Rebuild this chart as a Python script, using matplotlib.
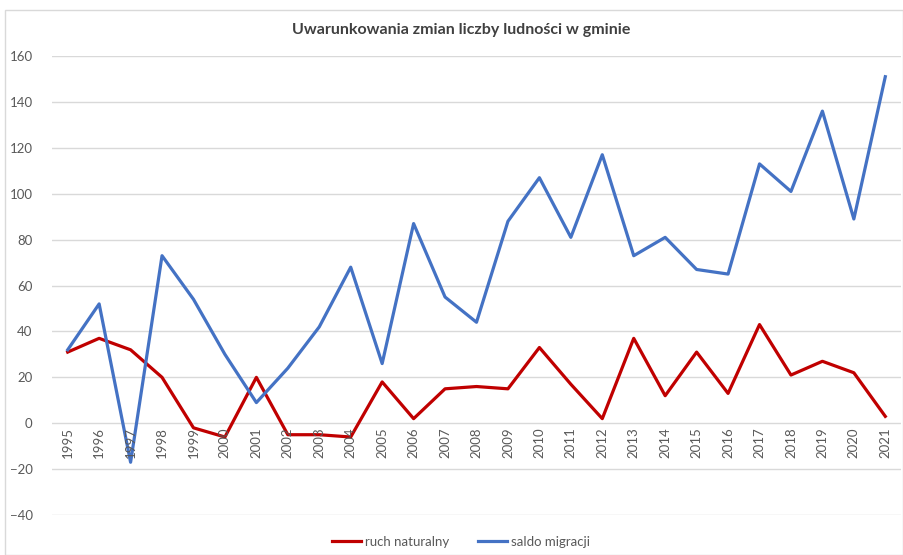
import numpy as np
import matplotlib.pyplot as plt
from matplotlib.patches import Rectangle

plt.rcParams['font.family'] = ['Lato', 'DejaVu Sans']

years = [str(y) for y in range(1995, 2022)]
ruch_naturalny = [31, 37, 32, 20, -2, -6, 20, -5, -5, -6, 18, 2, 15, 16, 15, 33,
                  17, 2, 37, 12, 31, 13, 43, 21, 27, 22, 3]
saldo_migracji = [32, 52, -17, 73, 54, 30, 9, 24, 42, 68, 26, 87, 55, 44, 88, 107,
                  81, 117, 73, 81, 67, 65, 113, 101, 136, 89, 151]
y_ticks = [-40, -20, 0, 20, 40, 60, 80, 100, 120, 140, 160]

fig = plt.figure(figsize=(9.04, 5.55), dpi=100)
ax = fig.add_axes([0.0575, 0.072, 0.9392, 0.827])

x = np.arange(len(years))
ax.plot(x, ruch_naturalny, color='#C00000', lw=2.3, label='ruch naturalny',
        solid_joinstyle='round', zorder=3)
ax.plot(x, saldo_migracji, color='#4472C4', lw=2.3, label='saldo migracji',
        solid_joinstyle='round', zorder=3)

ax.set_xlim(-0.5, len(years) - 0.5)
ax.set_ylim(-40, 160)
ax.set_yticks(y_ticks)
ax.yaxis.grid(True, color='#D9D9D9', lw=1)
ax.set_axisbelow(True)
for s in ax.spines.values():
    s.set_visible(False)
ax.tick_params(axis='y', length=0, labelsize=9.5, colors='#595959', pad=14)
ax.set_xticks([])

# category labels sit under the zero line, like Excel
for xi, lab in zip(x, years):
    ax.text(xi, -1.8, lab, rotation=90, ha='center', va='top',
            fontsize=9.5, color='#595959')

fig.text(0.51, 0.946, 'Uwarunkowania zmian liczby ludności w gminie',
         ha='center', va='center', fontsize=11.5, color='#404040', weight='bold')

leg = fig.legend(loc='center', bbox_to_anchor=(0.51, 0.024), ncol=2, frameon=False,
                 fontsize=9.5, handlelength=2.2, handletextpad=0.3, columnspacing=2.2)
for t in leg.get_texts():
    t.set_color('#595959')

fig.patches.append(Rectangle((0.005, 0.0), 0.994, 0.982, transform=fig.transFigure,
                             fill=False, edgecolor='#D9D9D9', lw=1))

fig.savefig('out.png', dpi=100)
